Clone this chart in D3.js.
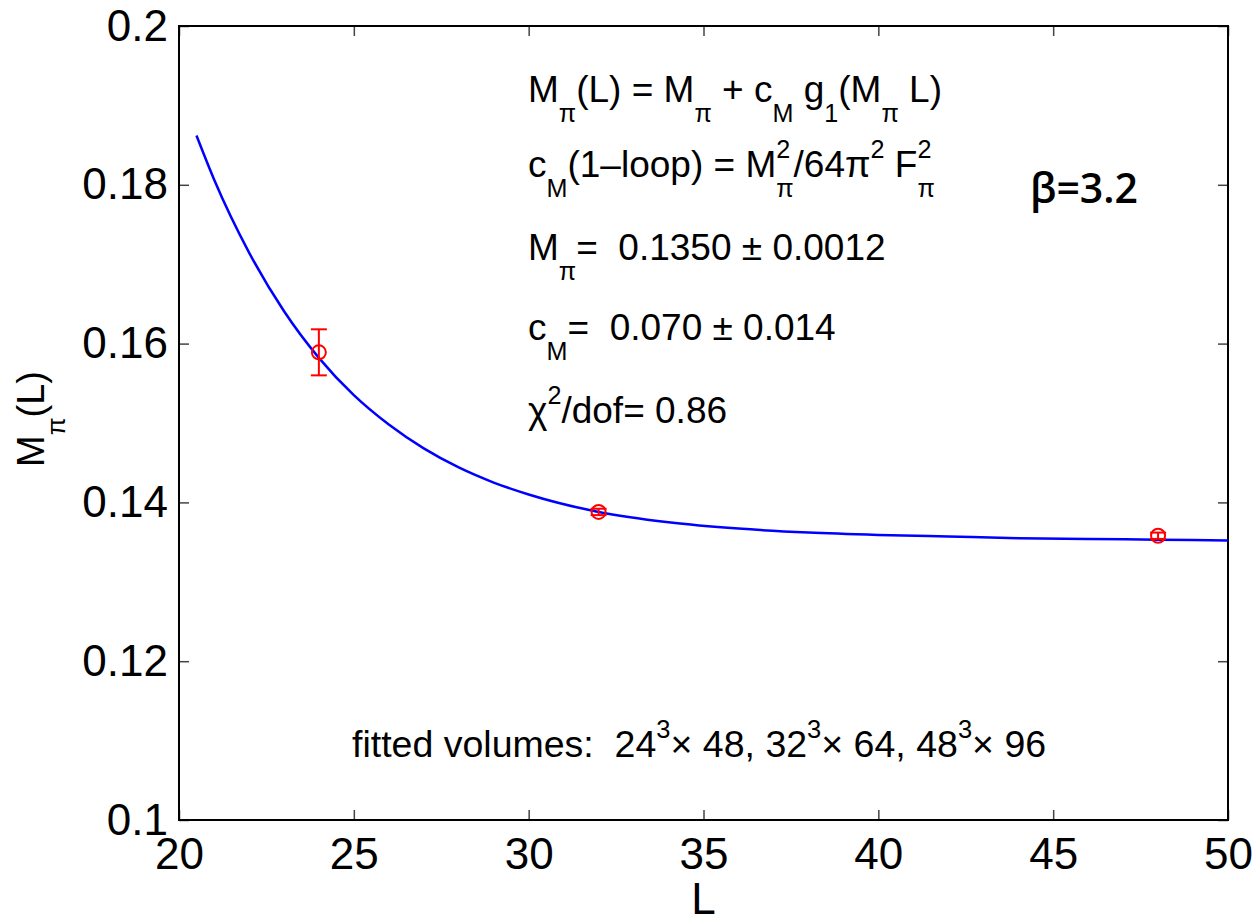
<!DOCTYPE html>
<html>
<head>
<meta charset="utf-8">
<script src="https://cdn.jsdelivr.net/npm/d3@7"></script>
<style>
    html, body { margin: 0; padding: 0; background: #fff; }
    svg text { font-family: "Liberation Sans", Arial, Helvetica, sans-serif; fill: #000; white-space: pre; }
</style>
</head>
<body>
<div id="chart"></div>
<script>
// ticks
const xTicks = [20, 25, 30, 35, 40, 45, 50];
const yTicks = [0.1, 0.12, 0.14, 0.16, 0.18, 0.2];

// measured points (L, M_pi(L), error)
const pointL = [24, 32, 48];
const pointM = [0.1589, 0.1388, 0.1358];
const pointErr = [0.0029, 0.0004, 0.0004];

// fitted curve
const curveL = [20.5, 21, 22, 23, 24, 25, 26, 27, 28, 29, 30, 32, 34, 36, 38, 40, 42, 44, 46, 48, 50];
const curveM = [0.1862, 0.1807, 0.1715, 0.1641, 0.1582, 0.1535, 0.1498, 0.1468, 0.1444, 0.1425,
    0.1410, 0.1388, 0.1375, 0.1367, 0.1362, 0.1359, 0.1357, 0.1355, 0.1354, 0.1353, 0.1352];

const W = 1258, H = 916;
const M = { left: 179, right: 30, top: 26, bottom: 96 };

const svg = d3.select('#chart').append('svg')
    .attr('width', W)
    .attr('height', H);

const x = d3.scaleLinear().domain([20, 50]).range([M.left, W - M.right]);
const y = d3.scaleLinear().domain([0.1, 0.2]).range([H - M.bottom, M.top]);

const TICK = 10;
const fmtY = d => d3.format('.2f')(d).replace(/0$/, '');

// axes: ticks inside, mirrored on top/right
function styleAxis(g) {
    g.select('.domain').remove();
    g.selectAll('.tick line').attr('stroke', '#444').attr('stroke-width', 1.5);
    g.selectAll('.tick text').attr('font-size', 44).attr('fill', '#000')
        .attr('font-family', '"Liberation Sans", Arial, sans-serif');
}

svg.append('g')
    .attr('transform', `translate(0,${y(0.1)})`)
    .call(d3.axisBottom(x).tickValues(xTicks).tickSizeInner(-TICK).tickSizeOuter(0).tickPadding(18).tickFormat(d3.format('d')))
    .call(styleAxis);
svg.append('g')
    .attr('transform', `translate(0,${y(0.2)})`)
    .call(d3.axisTop(x).tickValues(xTicks).tickSizeInner(-TICK).tickSizeOuter(0).tickFormat(''))
    .call(styleAxis);
svg.append('g')
    .attr('transform', `translate(${x(20)},0)`)
    .call(d3.axisLeft(y).tickValues(yTicks).tickSizeInner(-TICK).tickSizeOuter(0).tickPadding(11).tickFormat(fmtY))
    .call(styleAxis);
svg.append('g')
    .attr('transform', `translate(${x(50)},0)`)
    .call(d3.axisRight(y).tickValues(yTicks).tickSizeInner(-TICK).tickSizeOuter(0).tickFormat(''))
    .call(styleAxis);

// frame
svg.append('rect')
    .attr('x', x(20)).attr('y', y(0.2))
    .attr('width', x(50) - x(20)).attr('height', y(0.1) - y(0.2))
    .attr('fill', 'none').attr('stroke', '#000').attr('stroke-width', 2);

// fitted curve
const line = d3.line()
    .x((d, i) => x(curveL[i]))
    .y(d => y(d))
    .curve(d3.curveMonotoneX);

svg.append('path')
    .datum(curveM)
    .attr('d', line)
    .attr('fill', 'none')
    .attr('stroke', '#0000ff')
    .attr('stroke-width', 2.5);

// data points with error bars
const pts = svg.append('g')
    .attr('stroke', '#ff0000')
    .attr('stroke-width', 2)
    .attr('fill', 'none')
    .selectAll('g')
    .data(pointL.map((L, i) => ({ L, m: pointM[i], e: pointErr[i] })))
    .join('g');

pts.append('line')
    .attr('x1', d => x(d.L)).attr('x2', d => x(d.L))
    .attr('y1', d => y(d.m - d.e)).attr('y2', d => y(d.m + d.e));
pts.append('line')
    .attr('x1', d => x(d.L) - 8).attr('x2', d => x(d.L) + 8)
    .attr('y1', d => y(d.m + d.e)).attr('y2', d => y(d.m + d.e));
pts.append('line')
    .attr('x1', d => x(d.L) - 8).attr('x2', d => x(d.L) + 8)
    .attr('y1', d => y(d.m - d.e)).attr('y2', d => y(d.m - d.e));
pts.append('circle')
    .attr('cx', d => x(d.L)).attr('cy', d => y(d.m))
    .attr('r', 7);

// rich text with sub/superscripts
function rich(parent, x0, y0, parts, size) {
    let cx = x0;
    const small = size * 0.68;
    parts.forEach(p => {
        const t = parent.append('text')
            .attr('x', cx)
            .attr('y', y0 + (p.sub ? size * 0.55 : p.sup ? -size * 0.52 : 0))
            .attr('font-size', (p.sub || p.sup) ? small : size)
            .text(p.t);
        const w = t.node().getComputedTextLength();
        if (!p.stack) cx += w;
    });
    return cx;
}

const FS = 37;
const ann = svg.append('g');
rich(ann, 528, 102, [
    { t: 'M' }, { t: 'π', sub: 1 }, { t: '(L) = M' }, { t: 'π', sub: 1 }, { t: ' + c' }, { t: 'M', sub: 1 },
    { t: ' g' }, { t: '1', sub: 1 }, { t: '(M' }, { t: 'π', sub: 1 }, { t: ' L)' }
], FS);
rich(ann, 528, 177, [
    { t: 'c' }, { t: 'M', sub: 1 }, { t: '(1–loop) = M' }, { t: '2', sup: 1, stack: 1 }, { t: 'π', sub: 1 },
    { t: '/64π' }, { t: '2', sup: 1 }, { t: ' F' }, { t: '2', sup: 1, stack: 1 }, { t: 'π', sub: 1 }
], FS);
rich(ann, 528, 260, [
    { t: 'M' }, { t: 'π', sub: 1 }, { t: '=  0.1350 ± 0.0012' }
], FS);
rich(ann, 528, 340, [
    { t: 'c' }, { t: 'M', sub: 1 }, { t: '=  0.070 ± 0.014' }
], FS);
rich(ann, 528, 423, [
    { t: 'χ' }, { t: '2', sup: 1 }, { t: '/dof= 0.86' }
], FS);

rich(ann, 352, 757, [
    { t: 'fitted volumes:  24' }, { t: '3', sup: 1 }, { t: '× 48, 32' }, { t: '3', sup: 1 },
    { t: '× 64, 48' }, { t: '3', sup: 1 }, { t: '× 96' }
], 37.5);

svg.append('text')
    .attr('x', 1030).attr('y', 203)
    .attr('font-size', 41)
    .attr('font-weight', 600)
    .style('font-family', '"Open Sans", sans-serif')
    .text('β=3.2');

// axis labels
svg.append('text')
    .attr('x', (x(20) + x(50)) / 2).attr('y', 914)
    .attr('text-anchor', 'middle')
    .attr('font-size', 44)
    .text('L');

const yl = svg.append('g')
    .attr('transform', 'translate(44,467) rotate(-90)');
rich(yl, 0, 0, [{ t: 'M' }, { t: 'π', sub: 1 }, { t: '(L)' }], 38);
</script>
</body>
</html>
